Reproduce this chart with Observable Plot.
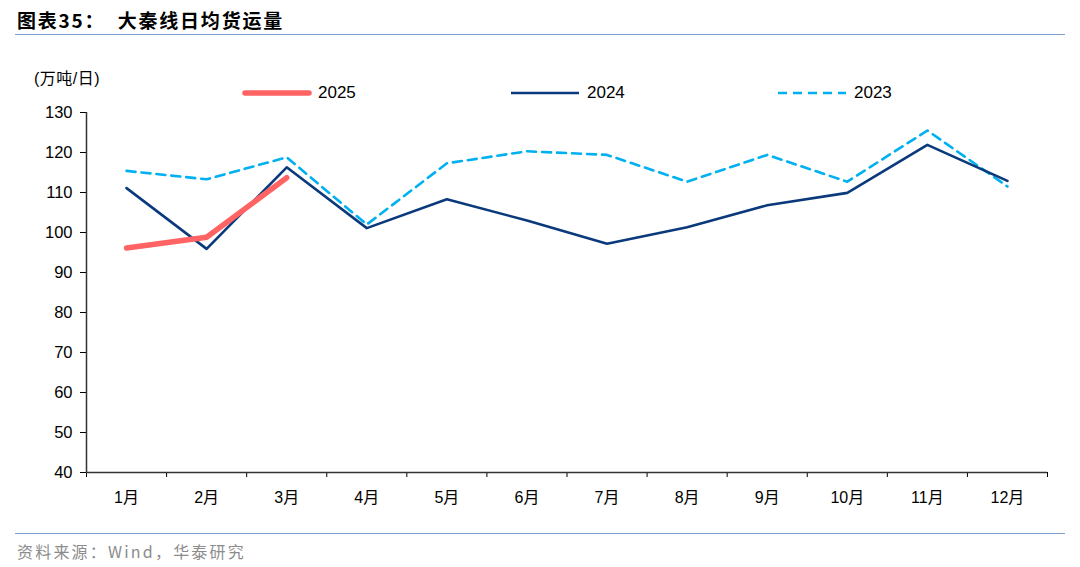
<!DOCTYPE html>
<html>
<head>
<meta charset="utf-8">
<script src="https://cdn.jsdelivr.net/npm/d3@7"></script>
<script src="https://cdn.jsdelivr.net/npm/@observablehq/plot@0.6"></script>
<style>
  html, body { margin: 0; padding: 0; background: #fff; }
  body { width: 1080px; height: 567px; position: relative; overflow: hidden;
         font-family: "Liberation Sans", "Noto Sans CJK SC", sans-serif; }
  #title { position: absolute; left: 17px; top: 6px; font-size: 19px; font-weight: bold;
           font-family: "Noto Sans CJK SC", sans-serif; color: #000; letter-spacing: 1.8px; white-space: pre; }
  .hr { position: absolute; left: 15px; width: 1050px; height: 0; border-top: 1.5px solid #7ea1cf; }
  #chart { position: absolute; left: 0; top: 0; }
  #unit { position: absolute; left: 34px; top: 65px; font-size: 16px; color: #000;
          font-family: "Liberation Sans", "Noto Sans CJK SC", sans-serif; letter-spacing: 0.5px; }
  .leg { position: absolute; top: 82px; height: 22px; display: flex; align-items: center;
         font-size: 17px; color: #000; }
  .leg svg { margin-right: 6px; }
  #source { position: absolute; left: 17px; top: 539px; font-size: 16px; color: #8c8c8c;
            font-family: "Noto Sans CJK SC", "Liberation Sans", sans-serif; letter-spacing: 2.2px; }
</style>
</head>
<body>
<div id="title">图表35：  大秦线日均货运量</div>
<div class="hr" style="top:34px"></div>
<div id="chart"></div>
<div id="unit">(万吨/日)</div>
<div id="legend"></div>
<div class="hr" style="top:533px"></div>
<div id="source">资料来源：Wind，华泰研究</div>
<script>
// 大秦线日均货运量（万吨/日），按月
const months = [1, 2, 3, 4, 5, 6, 7, 8, 9, 10, 11, 12];
const monthLabels = ["1月", "2月", "3月", "4月", "5月", "6月", "7月", "8月", "9月", "10月", "11月", "12月"];
const yTicks = [40, 50, 60, 70, 80, 90, 100, 110, 120, 130];

const v2025 = [96.1, 98.8, 113.7];
const v2024 = [111.1, 95.9, 116.3, 101.1, 108.3, 103.0, 97.2, 101.3, 106.8, 109.9, 121.9, 112.9];
const v2023 = [115.4, 113.3, 118.8, 102.0, 117.3, 120.3, 119.4, 112.7, 119.4, 112.7, 125.5, 111.5];

const seriesNames = ["2025", "2024", "2023"];
const seriesColors = ["#ff6363", "#0b3a7c", "#00b0f0"];

const toRows = (vals) => vals.map((v, i) => ({month: months[i], value: v}));
const rows2025 = toRows(v2025);
const rows2024 = toRows(v2024);
const rows2023 = toRows(v2023);

// category boundaries for the x-axis tick marks
const bounds = d3.range(0, months.length + 1).map(i => i + 0.5);

const plot = Plot.plot({
  width: 1080,
  height: 512,
  marginLeft: 86,
  marginRight: 33,
  marginTop: 112,
  marginBottom: 40,
  style: {fontFamily: '"Liberation Sans", "Noto Sans CJK SC", sans-serif', fontSize: "16px", color: "#000", background: "transparent"},
  x: {domain: [0.5, 12.5]},
  y: {domain: [40, 130]},
  marks: [
    Plot.axisY({ticks: yTicks, tickSize: 6, tickPadding: 8, label: null, fontSize: 16.5}),
    Plot.axisX({ticks: bounds, tickSize: 5, tickFormat: () => "", label: null}),
    Plot.axisX({ticks: months, tickSize: 0, tickPadding: 19, label: null, fontSize: 16,
                tickFormat: d => monthLabels[d - 1], fontFamily: '"Liberation Sans", "Noto Sans CJK SC", sans-serif'}),
    Plot.ruleY([40], {stroke: "#333", strokeWidth: 1.5}),
    Plot.ruleX([0.5], {stroke: "#333", strokeWidth: 1.5}),
    Plot.line(rows2023, {x: "month", y: "value", stroke: seriesColors[2], strokeWidth: 2.6, strokeDasharray: "9,6"}),
    Plot.line(rows2024, {x: "month", y: "value", stroke: seriesColors[1], strokeWidth: 2.6}),
    Plot.line(rows2025, {x: "month", y: "value", stroke: seriesColors[0], strokeWidth: 5.5, strokeLinecap: "round"})
  ]
});
document.getElementById("chart").appendChild(plot);

// legend row
const legendLeft = [242, 511, 778];
const legend = document.getElementById("legend");
seriesNames.forEach((name, i) => {
  const item = document.createElement("div");
  item.className = "leg";
  item.style.left = legendLeft[i] + "px";
  const dash = i === 2 ? 'stroke-dasharray="9,6"' : "";
  const w = i === 0 ? 5.5 : 2.6;
  const cap = i === 0 ? 'stroke-linecap="round"' : "";
  item.innerHTML = `<svg width="70" height="10"><line x1="${i === 0 ? 3 : 0}" y1="5" x2="${i === 0 ? 67 : 68}" y2="5" stroke="${seriesColors[i]}" stroke-width="${w}" ${dash} ${cap}/></svg><span>${name}</span>`;
  legend.appendChild(item);
});
</script>
</body>
</html>
